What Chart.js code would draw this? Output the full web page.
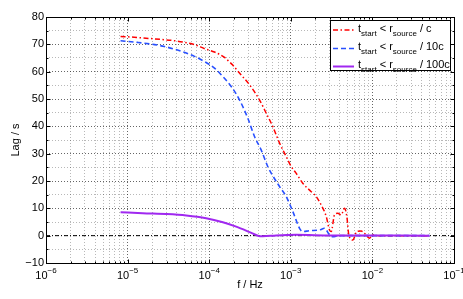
<!DOCTYPE html>
<html>
<head>
<meta charset="utf-8">
<title>Lag vs frequency</title>
<script src="https://cdn.jsdelivr.net/npm/chart.js@4.4.0/dist/chart.umd.min.js"></script>
<style>
  html, body { margin: 0; padding: 0; background: #fff; }
  canvas { display: block; }
</style>
</head>
<body>
<canvas id="lagChart" width="463" height="299"></canvas>
<script>
// values: frequency in Hz, lag in s
const redFreq = [8.2e-6, 1.2e-5, 2.1e-5, 3.8e-5, 5.0e-5, 6.6e-5, 8.8e-5, 1.16e-4, 1.54e-4, 1.77e-4,
    1.93e-4, 2.35e-4, 3.12e-4, 4.13e-4, 5.0e-4, 6.0e-4, 7.3e-4, 8.8e-4, 1.01e-3, 1.16e-3,
    1.40e-3, 1.78e-3, 2.05e-3, 2.36e-3, 2.72e-3, 2.98e-3, 3.13e-3, 3.43e-3, 3.77e-3, 4.15e-3,
    4.55e-3, 4.86e-3, 5.14e-3, 5.75e-3, 6.44e-3, 7.29e-3, 8.0e-3, 9.2e-3, 1.01e-2, 1.2e-2, 5.0e-2];
const redLag = [72.9, 72.6, 72.0, 71.3, 70.7, 69.9, 68.4, 67.2, 65.2, 63.6,
    62.5, 59.5, 55.2, 49.7, 44.8, 40.0, 33.8, 28.9, 25.3, 22.9,
    19.2, 16.1, 14.3, 11.2, 7.0, 2.1, 1.5, 7.6, 8.2, 7.6,
    10.0, 7.0, 0.3, -1.6, 1.5, 1.7, 0.9, -0.9, 0.3, 0.0, 0.0];

const blueFreq = [8.2e-6, 1.32e-5, 2.14e-5, 2.83e-5, 4.09e-5, 5.23e-5, 6.6e-5, 8.76e-5, 1.16e-4, 1.40e-4,
    1.86e-4, 2.35e-4, 2.97e-4, 3.59e-4, 4.33e-4, 5.22e-4, 5.75e-4, 7.27e-4, 8.78e-4, 1.06e-3,
    1.28e-3, 1.40e-3, 1.69e-3, 2.25e-3, 2.59e-3, 2.98e-3, 3.25e-3, 3.95e-3, 5.0e-2];
const blueLag = [71.3, 70.7, 69.9, 69.2, 67.9, 66.8, 65.6, 63.7, 61.3, 58.9,
    54.6, 49.7, 43.0, 36.3, 31.4, 25.3, 22.9, 18.0, 14.3, 8.8,
    2.7, 1.5, 1.8, 2.1, 2.7, 0.3, -0.4, 0.0, 0.0];

const purpleFreq = [8.2e-6, 1.53e-5, 2.97e-5, 5.23e-5, 9.18e-5, 1.47e-4, 2.14e-4, 3.12e-4, 3.94e-4, 4.54e-4,
    6.62e-4, 1.16e-3, 3.0e-3, 5.0e-2];
const purpleLag = [8.6, 8.2, 7.9, 7.4, 6.4, 4.9, 3.3, 1.3, 0.0, -0.2,
    0.1, 0.3, 0.1, 0.0];

const zeroFreq = [1e-6, 1e-1];
const zeroLag = [0, 0];

// axes
const decadeExponents = [-6, -5, -4, -3, -2, -1];
const minorMantissas = [2, 3, 4, 5, 6, 7, 8, 9];
const yTickValues = [-10, -5, 0, 5, 10, 15, 20, 25, 30, 35, 40, 45, 50, 55, 60, 65, 70, 75, 80];

// legend text runs: [text, isSubscript]
const legendEntries = [
    [['t', false], ['start', true], [' < r', false], ['source', true], [' / c', false]],
    [['t', false], ['start', true], [' < r', false], ['source', true], [' / 10c', false]],
    [['t', false], ['start', true], [' < r', false], ['source', true], [' / 100c', false]]
];

const FONT = "'Liberation Sans', Arial, sans-serif";
const majorGrid = 'rgba(0, 0, 0, 0.6)';
const minorGrid = 'rgba(0, 0, 0, 0.28)';

const toPoints = (xs, ys) => xs.map((x, i) => ({ x: x, y: ys[i] }));

const xTicks = [];
decadeExponents.forEach((e, i) => {
    xTicks.push({ value: Math.pow(10, e), major: true });
    if (i < decadeExponents.length - 1) {
        minorMantissas.forEach(m => xTicks.push({ value: m * Math.pow(10, e), major: false }));
    }
});

const seriesStyles = [
    { color: 'rgb(160, 40, 240)', dash: [], width: 2 },
    { color: 'rgb(40, 80, 255)', dash: [5, 3], width: 1.6 },
    { color: 'rgb(255, 0, 0)', dash: [5, 2.5, 1.5, 2.5], width: 1.5 }
];

const matlabAxes = {
    id: 'matlabAxes',
    afterDatasetsDraw(chart) {
        const { ctx, chartArea: a, scales: { x, y } } = chart;
        const L = Math.round(a.left) + 0.5;
        const R = Math.round(a.right) + 0.5;
        const T = Math.round(a.top) + 0.5;
        const B = Math.round(a.bottom) + 0.5;

        ctx.save();
        ctx.strokeStyle = '#000';
        ctx.lineWidth = 1;
        ctx.setLineDash([]);
        ctx.strokeRect(L, T, R - L, B - T);

        // inward ticks
        ctx.beginPath();
        xTicks.forEach(t => {
            const px = Math.round(x.getPixelForValue(t.value)) + 0.5;
            const len = t.major ? 4 : 2;
            ctx.moveTo(px, B); ctx.lineTo(px, B - len);
            ctx.moveTo(px, T); ctx.lineTo(px, T + len);
        });
        yTickValues.forEach(v => {
            const py = Math.round(y.getPixelForValue(v)) + 0.5;
            const len = v % 10 === 0 ? 4 : 2;
            ctx.moveTo(L, py); ctx.lineTo(L + len, py);
            ctx.moveTo(R, py); ctx.lineTo(R - len, py);
        });
        ctx.stroke();

        // x tick labels 10^n
        ctx.fillStyle = '#000';
        ctx.textBaseline = 'alphabetic';
        ctx.textAlign = 'left';
        decadeExponents.forEach(e => {
            const px = x.getPixelForValue(Math.pow(10, e));
            const expText = '\u2212' + Math.abs(e);
            ctx.font = '11px ' + FONT;
            const wb = ctx.measureText('10').width;
            ctx.font = '8px ' + FONT;
            const we = ctx.measureText(expText).width;
            const start = px - (wb + we) / 2;
            ctx.font = '11px ' + FONT;
            ctx.fillText('10', start, B + 15);
            ctx.font = '8px ' + FONT;
            ctx.fillText(expText, start + wb, B + 9);
        });
        ctx.restore();
    },
    afterDraw(chart) {
        const { ctx } = chart;
        const box = { left: 330.5, top: 20.5, right: 450.5, bottom: 70.5 };
        const rowY = [30, 48.5, 66.5];

        ctx.save();
        ctx.fillStyle = '#fff';
        ctx.fillRect(box.left, box.top, box.right - box.left, box.bottom - box.top);
        ctx.strokeStyle = '#000';
        ctx.lineWidth = 1;
        ctx.strokeRect(box.left, box.top, box.right - box.left, box.bottom - box.top);

        legendEntries.forEach((runs, i) => {
            const style = seriesStyles[2 - i];
            const ly = rowY[i];
            ctx.strokeStyle = style.color;
            ctx.lineWidth = style.width;
            ctx.setLineDash(style.dash);
            ctx.beginPath();
            ctx.moveTo(333, ly);
            ctx.lineTo(354, ly);
            ctx.stroke();
            ctx.setLineDash([]);

            let tx = 358;
            ctx.fillStyle = '#000';
            ctx.textAlign = 'left';
            ctx.textBaseline = 'alphabetic';
            runs.forEach(([text, sub]) => {
                ctx.font = (sub ? '8px ' : '11px ') + FONT;
                ctx.fillText(text, tx, ly + (sub ? 5.5 : 1.5));
                tx += ctx.measureText(text).width;
            });
        });
        ctx.restore();
    }
};

const ctx = document.getElementById('lagChart').getContext('2d');

new Chart(ctx, {
    type: 'line',
    data: {
        datasets: [
            {
                label: 't_start < r_source / 100c',
                data: toPoints(purpleFreq, purpleLag),
                borderColor: seriesStyles[0].color,
                borderWidth: seriesStyles[0].width,
                borderDash: seriesStyles[0].dash,
                pointRadius: 0,
                cubicInterpolationMode: 'monotone',
                fill: false
            },
            {
                label: 't_start < r_source / 10c',
                data: toPoints(blueFreq, blueLag),
                borderColor: seriesStyles[1].color,
                borderWidth: seriesStyles[1].width,
                borderDash: seriesStyles[1].dash,
                pointRadius: 0,
                cubicInterpolationMode: 'monotone',
                fill: false
            },
            {
                label: 't_start < r_source / c',
                data: toPoints(redFreq, redLag),
                borderColor: seriesStyles[2].color,
                borderWidth: seriesStyles[2].width,
                borderDash: seriesStyles[2].dash,
                pointRadius: 0,
                cubicInterpolationMode: 'monotone',
                fill: false
            },
            {
                label: 'zero',
                data: toPoints(zeroFreq, zeroLag),
                borderColor: '#000',
                borderWidth: 1,
                borderDash: [4, 2, 1, 2],
                pointRadius: 0,
                fill: false
            }
        ]
    },
    options: {
        responsive: false,
        devicePixelRatio: 1,
        animation: false,
        layout: {
            padding: { left: 0, top: 17, right: 9, bottom: 0 }
        },
        plugins: {
            legend: { display: false },
            tooltip: { enabled: false }
        },
        scales: {
            x: {
                type: 'logarithmic',
                min: 1e-6,
                max: 1e-1,
                afterBuildTicks: scale => {
                    scale.ticks = xTicks.map(t => ({ value: t.value, major: t.major }));
                },
                afterFit: scale => { scale.height = 36; },
                ticks: { display: false },
                grid: {
                    drawTicks: false,
                    lineWidth: 1,
                    color: c => (c.tick && c.tick.major ? majorGrid : minorGrid)
                },
                border: { display: false, dash: [1, 2] },
                title: {
                    display: true,
                    text: 'f / Hz',
                    color: '#000',
                    font: { family: FONT, size: 11 },
                    padding: { top: 0, bottom: 7 }
                }
            },
            y: {
                min: -10,
                max: 80,
                afterBuildTicks: scale => {
                    scale.ticks = yTickValues.map(v => ({ value: v }));
                },
                afterFit: scale => { scale.width = 46; },
                ticks: {
                    autoSkip: false,
                    color: '#000',
                    padding: 2,
                    font: { family: FONT, size: 11 },
                    callback: v => (v % 10 === 0 ? (v < 0 ? '\u2212' + Math.abs(v) : String(v)) : '')
                },
                grid: {
                    drawTicks: false,
                    lineWidth: 1,
                    color: c => (c.tick && c.tick.value % 10 === 0 ? majorGrid : minorGrid)
                },
                border: { display: false, dash: [1, 2] },
                title: {
                    display: true,
                    text: 'Lag / s',
                    color: '#000',
                    font: { family: FONT, size: 11 },
                    padding: { top: 9, bottom: 0 }
                }
            }
        }
    },
    plugins: [matlabAxes]
});
</script>
</body>
</html>
